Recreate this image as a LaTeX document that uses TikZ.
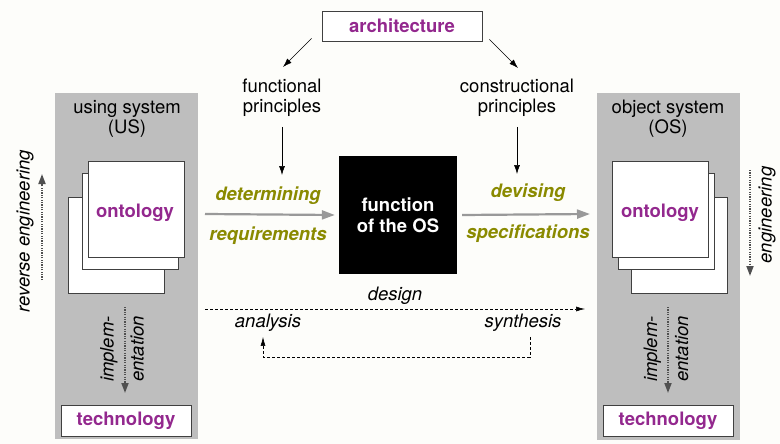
\documentclass[tikz,border=0pt]{standalone}
\usepackage{fontspec}
\setmainfont{TeX Gyre Heros}
\usetikzlibrary{arrows.meta,calc}
\definecolor{bg}{HTML}{FDFDFA}
\definecolor{panelgray}{HTML}{BEBEBE}
\definecolor{purp}{HTML}{93288E}
\definecolor{oliv}{RGB}{138,138,0}
\definecolor{garrow}{HTML}{999999}
\definecolor{darr}{HTML}{505050}
\begin{document}
\begin{tikzpicture}[x=1pt,y=-1pt,
  every node/.style={inner sep=0pt, font=\fontsize{18.5}{20}\selectfont},
  panelbox/.style={fill=panelgray, minimum width=143pt, minimum height=346pt},
  pagebox/.style={draw=black!75, fill=white, line width=0.8pt, minimum width=96pt, minimum height=96pt},
  techbox/.style={draw=black!75, fill=white, line width=0.8pt, minimum width=130pt, minimum height=31pt, text=purp, font=\fontsize{18.5}{20}\selectfont\bfseries},
  purptext/.style={text=purp, font=\fontsize{18.5}{20}\selectfont\bfseries},
  olivtext/.style={text=oliv, font=\fontsize{18.5}{20}\selectfont\bfseries\itshape},
  ittext/.style={font=\fontsize{18.5}{20}\selectfont\itshape},
  blkarrow/.style={-{Latex[length=9pt,width=6pt]}, line width=0.6pt},
  grarrow/.style={draw=garrow, line width=2.2pt, -{Triangle[length=13pt,width=9pt]}},
  dotarrow/.style={draw=darr, line width=1.8pt, dash pattern=on 1.2pt off 1.2pt, -{Triangle[length=10pt,width=7pt]}},
  dasharrow/.style={dash pattern=on 3pt off 2pt, line width=0.6pt, -{Latex[length=9pt,width=5pt]}}
]
\fill[bg] (0,0) rectangle (780,444);
\useasboundingbox (0,0) rectangle (780,444);

% panels
\node[panelbox] (usp) at (126.5,266) {};
\node[panelbox] (osp) at (668,266.5) {};
\node[align=center] (ust) at (127,119) {using system\\(US)};
\node[align=center] (ost) at (668,119) {object system\\(OS)};

% left ontology stack
\node[pagebox] (lb) at (116,245) {};
\node[pagebox] (lm) at (130,221) {};
\node[pagebox] (lf) at (136,209) {};
\node[purptext] (lo) at (135,213) {ontology};
% right ontology stack
\node[pagebox] (rb) at (679,245) {};
\node[pagebox] (rm) at (666,221) {};
\node[pagebox] (rf) at (660,209) {};
\node[purptext] (ro) at (660,213) {ontology};

% technology
\node[techbox] (lt) at (126,420.5) {technology};
\node[techbox] (rt) at (668,420.5) {technology};

% implementation arrows
\coordinate (li1) at (125,307);
\coordinate (li2) at (125,393);
\draw[dotarrow] (li1) -- (li2);
\node[ittext, rotate=90, align=center] (lim) at (122,349) {implem-\\[10pt]entation};
\coordinate (ri1) at (668,307);
\coordinate (ri2) at (668,393);
\draw[dotarrow] (ri1) -- (ri2);
\node[ittext, rotate=90, align=center] (rim) at (666,349) {implem-\\[11pt]entation};

% reverse engineering / engineering
\node[ittext, rotate=90] (reveng) at (25,231) {reverse engineering};
\coordinate (re1) at (42,280);
\coordinate (re2) at (42,174);
\draw[dotarrow] (re1) -- (re2);
\node[ittext, rotate=90] (eng) at (767,215) {engineering};
\coordinate (en1) at (750,170);
\coordinate (en2) at (750,276);
\draw[dotarrow] (en1) -- (en2);

% architecture
\node[draw=black!75, fill=white, line width=0.8pt, minimum width=160pt, minimum height=30pt, purptext] (arch) at (402,26) {architecture};
\node[align=center] (fp) at (282,98) {functional\\principles};
\node[align=center] (cp) at (517,98) {constructional\\principles};
\draw[blkarrow] ($(arch.south west)+(-10,-3)$) -- ($(fp.north)+(1,-12)$);
\draw[blkarrow] ($(arch.south east)+(7,-2)$) -- ($(cp.north)+(1,-11)$);
\coordinate (fpe) at (282,175);
\coordinate (cpe) at (517,174);
\draw[blkarrow] ($(fp.south)+(0,10)$) -- (fpe);
\draw[blkarrow] ($(cp.south)+(0,10)$) -- (cpe);

% function box
\node[fill=black, minimum width=118pt, minimum height=118pt, text=white, align=center,
      font=\fontsize{18.5}{21}\selectfont\bfseries] (fbox) at (398,215) {function\\of the OS};

% grey arrows
\coordinate (gl) at (205,214);
\coordinate (gr) at (590,214);
\draw[grarrow] (gl) -- ($(fbox.west)+(-4,0)$);
\draw[grarrow] ($(fbox.east)+(5,0)$) -- (gr);
\node[olivtext] (det) at (268,196) {determining};
\node[olivtext] (req) at (268,236) {requirements};
\node[olivtext] (dev) at (528,193) {devising};
\node[olivtext] (spec) at (528,234) {specifications};

% design / analysis / synthesis
\coordinate (d1) at (205,309);
\coordinate (d2) at (585,309);
\draw[dasharrow] (d1) -- (d2);
\node[ittext] (des) at (395,296) {design};
\node[ittext] (ana) at (268,323) {analysis};
\node[ittext] (syn) at (523,323) {synthesis};
\draw[dasharrow] ($(syn.south)+(7,5)$) -- ++(0,20) -| ($(ana.south)+(-5,5)$);
\end{tikzpicture}
\end{document}
